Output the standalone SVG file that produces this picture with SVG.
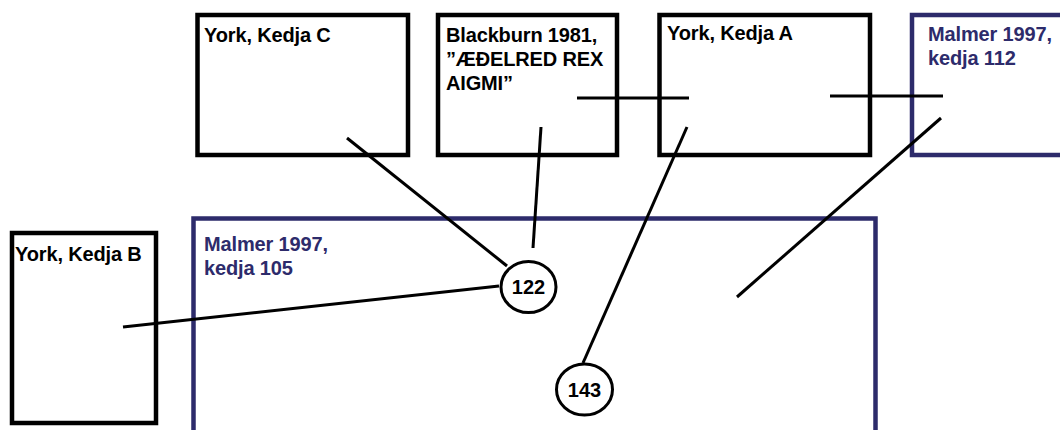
<svg xmlns="http://www.w3.org/2000/svg" width="1060" height="430" viewBox="0 0 1060 430">
<style>
.box{fill:#fff;stroke:#000;stroke-width:4.5}
.mbox{fill:none;stroke:#2d2b6b;stroke-width:4.5}
.t{font-family:"Liberation Sans",Arial,sans-serif;font-weight:bold;font-size:20px;fill:#000;letter-spacing:-0.15px}
.mt{font-family:"Liberation Sans",Arial,sans-serif;font-weight:bold;font-size:20px;fill:#2d2b6b;letter-spacing:-0.15px}
.c{fill:#fff;stroke:#000;stroke-width:3}
.ct{font-family:"Liberation Sans",Arial,sans-serif;font-weight:bold;font-size:20px;fill:#000;text-anchor:middle}
.ln{stroke:#000;stroke-width:3;fill:none}
</style>
<rect width="1060" height="430" fill="#fff"/>
<g id="malmer105">
<rect class="mbox" x="193.5" y="218.5" width="682" height="230"/>
<text class="mt" x="204" y="251">Malmer 1997,</text>
<text class="mt" x="204" y="275">kedja 105</text>
</g>
<g id="yorkC">
<rect class="box" x="197.5" y="15" width="210.5" height="140"/>
<text class="t" x="204" y="42">York, Kedja C</text>
</g>
<g id="blackburn">
<rect class="box" x="438" y="15" width="179" height="140"/>
<text class="t" x="446" y="42">Blackburn 1981,</text>
<text class="t" x="446" y="66">”ÆĐELRED REX</text>
<text class="t" x="446" y="90">AIGMI”</text>
</g>
<g id="yorkA">
<rect class="box" x="659.5" y="15" width="210.5" height="140"/>
<text class="t" x="667" y="40">York, Kedja A</text>
</g>
<g id="malmer112">
<rect class="mbox" x="912" y="15" width="160" height="140"/>
<text class="mt" x="928" y="41">Malmer 1997,</text>
<text class="mt" x="928" y="65">kedja 112</text>
</g>
<g id="yorkB">
<rect class="box" x="12" y="233" width="144" height="190"/>
<text class="t" x="15" y="261">York, Kedja B</text>
</g>
<g id="connectors">
<line class="ln" x1="347" y1="138" x2="507" y2="266"/>
<line class="ln" x1="541" y1="127" x2="533" y2="248"/>
<line class="ln" x1="577" y1="98" x2="689" y2="98"/>
<line class="ln" x1="830" y1="96" x2="943" y2="96"/>
<line class="ln" x1="687" y1="127" x2="583" y2="363"/>
<line class="ln" x1="941" y1="118" x2="737" y2="297"/>
<line class="ln" x1="123" y1="327" x2="499" y2="286"/>
</g>
<g id="n122">
<ellipse class="c" cx="528.5" cy="287" rx="27.5" ry="25.5"/>
<text class="ct" x="528.5" y="294">122</text>
</g>
<g id="n143">
<ellipse class="c" cx="584.5" cy="389.5" rx="28" ry="25.5"/>
<text class="ct" x="584.5" y="397">143</text>
</g>
</svg>
